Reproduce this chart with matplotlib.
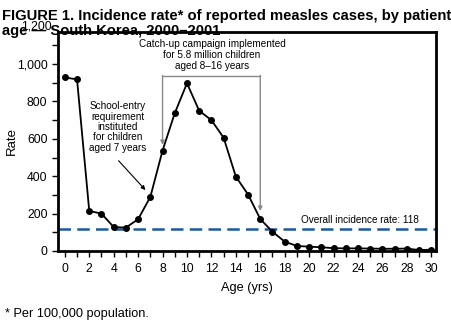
import matplotlib.pyplot as plt
from matplotlib.ticker import MultipleLocator, FuncFormatter

plt.rcParams['font.family'] = ['Liberation Sans', 'DejaVu Sans']

# incidence per 100,000 by single year of age
ages = list(range(0, 31))
rates = [928, 918, 214, 200, 128, 125, 170, 289, 537, 737, 897, 750, 700, 606,
         398, 302, 171, 103, 50, 27, 23, 20, 15, 14, 14, 13, 12, 12, 13, 5, 7]
overall_rate = 118

fig = plt.figure(figsize=(4.52, 3.32), dpi=100)
ax = fig.add_axes([0.128, 0.244, 0.837, 0.66])

ax.plot(ages, rates, color='black', linewidth=1.3, marker='o', markersize=4, zorder=3)
ax.axhline(overall_rate, color='#1a5a9e', linewidth=1.8, dashes=(5, 2.5), zorder=2)

ax.set_xlim(-0.57, 30.4)
ax.set_ylim(0, 1172)
ax.xaxis.set_major_locator(MultipleLocator(2))
ax.xaxis.set_minor_locator(MultipleLocator(1))
ax.yaxis.set_major_locator(MultipleLocator(200))
ax.yaxis.set_minor_locator(MultipleLocator(100))
ax.yaxis.set_major_formatter(FuncFormatter(lambda v, p: f'{int(v):,}'))
ax.tick_params(which='both', direction='out', labelsize=8.8, width=1, color='black', length=4)
ax.tick_params(axis='x', which='major', pad=5)
for s in ax.spines.values():
    s.set_linewidth(2)

# 1,200 sits just above the frame
ax.text(-1.1, 1200, '1,200', ha='right', va='center', fontsize=8.8, clip_on=False)

ax.set_xlabel('Age (yrs)', fontsize=9.2, labelpad=5)
ax.set_ylabel('Rate', fontsize=9.5)
ax.yaxis.set_label_coords(-0.105, 0.5)

# catch-up campaign bracket
top = 936
ax.plot([8, 16], [top, top], color='#888888', linewidth=1)
ax.annotate('', xy=(8, 567), xytext=(8, top + 3),
            arrowprops=dict(arrowstyle='-|>', color='#888888', lw=1,
                            mutation_scale=6, shrinkA=0, shrinkB=0))
ax.annotate('', xy=(16, 214), xytext=(16, top + 3),
            arrowprops=dict(arrowstyle='-|>', color='#888888', lw=1,
                            mutation_scale=6, shrinkA=0, shrinkB=0))
ax.text(12.05, 1048, 'Catch-up campaign implemented\nfor 5.8 million children\naged 8\u201316 years',
        ha='center', va='center', fontsize=7.2, linespacing=1.15)

ax.text(4.35, 663, 'School-entry\nrequirement\ninstituted\nfor children\naged 7 years',
        ha='center', va='center', fontsize=7.2, linespacing=1.05)
ax.annotate('', xy=(6.6, 326), xytext=(4.4, 483),
            arrowprops=dict(arrowstyle='-|>', color='black', lw=0.8,
                            mutation_scale=6, shrinkA=0, shrinkB=0))

ax.text(19.3, 166, 'Overall incidence rate: 118', ha='left', va='center', fontsize=7.2)

fig.text(0.005, 0.94, 'FIGURE 1. Incidence rate* of reported measles cases, by patient',
         fontsize=10.6, fontweight='bold', ha='left', va='baseline')
fig.text(0.005, 0.896, 'age \u2014 South Korea, 2000\u20132001',
         fontsize=10.6, fontweight='bold', ha='left', va='baseline')
fig.text(0.011, 0.055, '* Per 100,000 population.', fontsize=9.2, ha='left', va='center')

fig.savefig('out.png', dpi=100)
